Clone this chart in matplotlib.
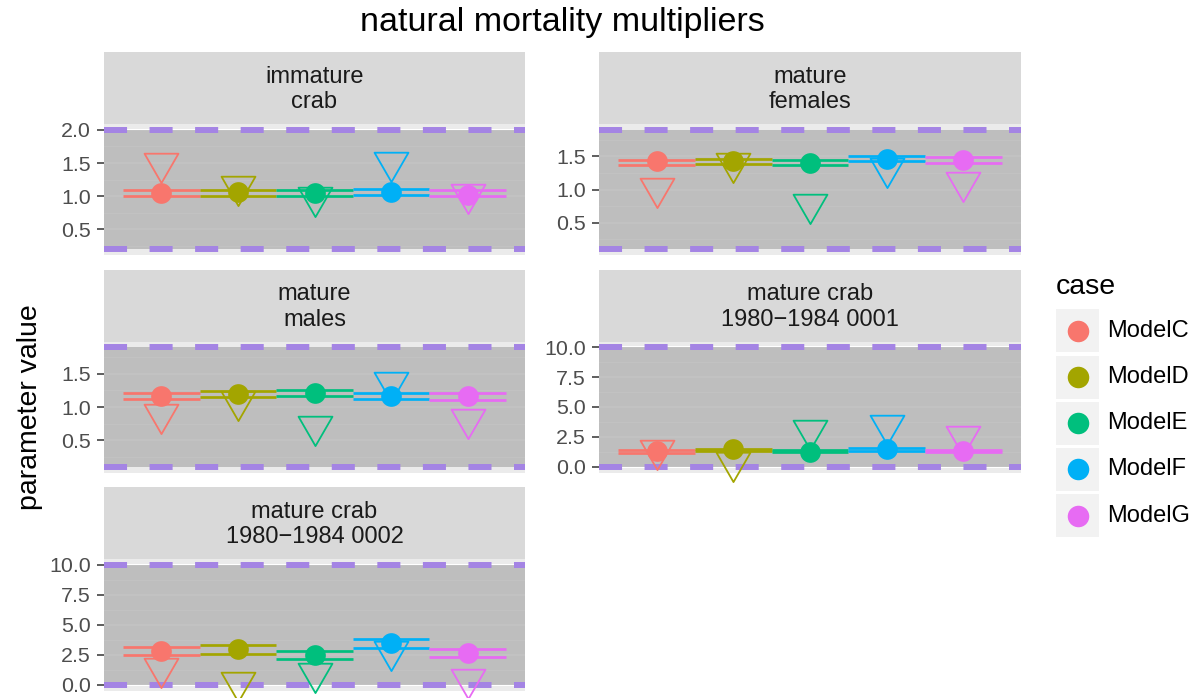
import matplotlib
matplotlib.use('Agg')
import matplotlib.pyplot as plt
from matplotlib.path import Path
from matplotlib.ticker import MultipleLocator, FormatStrFormatter
from matplotlib.patches import Rectangle
import numpy as np

plt.rcParams['font.family'] = ['Liberation Sans', 'DejaVu Sans']
plt.rcParams['lines.scale_dashes'] = False

# ---------------- data ----------------
cases = ['ModelC', 'ModelD', 'ModelE', 'ModelF', 'ModelG']
case_colors = ['#F8766D', '#A3A500', '#00BF7D', '#00B0F6', '#E76BF3']

panel_labels = ['immature\ncrab', 'mature\nfemales', 'mature\nmales',
                'mature crab\n1980\u22121984 0001', 'mature crab\n1980\u22121984 0002']

lower_bounds = [0.2, 0.1, 0.1, 0.0, 0.0]
upper_bounds = [2.0, 1.9, 1.9, 10.0, 10.0]

# estimates (filled circles)
est_immature = [1.05, 1.066, 1.05, 1.06, 1.02]
est_mat_fem = [1.425, 1.435, 1.405, 1.465, 1.45]
est_mat_male = [1.167, 1.197, 1.212, 1.167, 1.162]
est_0001 = [1.33, 1.47, 1.25, 1.47, 1.28]
est_0002 = [2.83, 2.94, 2.44, 3.44, 2.64]

# upper / lower horizontal lines
hi_immature = [1.09, 1.10, 1.09, 1.106, 1.09]
lo_immature = [0.995, 1.0, 0.995, 1.015, 0.995]
hi_mat_fem = [1.445, 1.46, 1.45, 1.50, 1.485]
lo_mat_fem = [1.374, 1.385, 1.365, 1.425, 1.40]
hi_mat_male = [1.212, 1.237, 1.258, 1.207, 1.207]
lo_mat_male = [1.121, 1.146, 1.167, 1.121, 1.106]
hi_0001 = [1.35, 1.49, 1.38, 1.54, 1.41]
lo_0001 = [1.15, 1.29, 1.18, 1.34, 1.21]
hi_0002 = [3.17, 3.28, 2.83, 3.81, 3.00]
lo_0002 = [2.44, 2.56, 2.14, 3.06, 2.28]

# initial values (open down-triangles)
init_immature = [1.505, 1.157, 0.98, 1.52, 1.025]
init_mat_fem = [1.027, 1.394, 0.786, 1.33, 1.12]
init_mat_male = [0.894, 1.09, 0.712, 1.374, 0.823]
init_0001 = [1.36, 0.42, 3.08, 3.5, 2.58]
init_0002 = [1.36, 0.17, 0.97, 2.8, 0.5]

estimates = [est_immature, est_mat_fem, est_mat_male, est_0001, est_0002]
his = [hi_immature, hi_mat_fem, hi_mat_male, hi_0001, hi_0002]
los = [lo_immature, lo_mat_fem, lo_mat_male, lo_0001, lo_0002]
inits = [init_immature, init_mat_fem, init_mat_male, init_0001, init_0002]
major_steps = [0.5, 0.5, 0.5, 2.5, 2.5]

# ---------------- layout (pixels) ----------------
W, H, DPI = 1197, 698, 100
fig = plt.figure(figsize=(W / DPI, H / DPI), dpi=DPI)
fig.patch.set_facecolor('white')

def rect(x0, y0, x1, y1):
    return [x0 / W, 1 - y1 / H, (x1 - x0) / W, (y1 - y0) / H]

cols = [(104, 525), (599, 1021)]
rows = [(52, 124, 255), (269.5, 341.5, 472.5), (487, 559, 690.5)]
slots = [(0, 0), (0, 1), (1, 0), (1, 1), (2, 0)]

# equilateral down-triangle centred on its centroid (like R pch 6)
tri_path = Path([[0, -1], [-0.866, 0.5], [0.866, 0.5], [0, -1]],
                [Path.MOVETO, Path.LINETO, Path.LINETO, Path.CLOSEPOLY])

xpos = np.arange(1, len(cases) + 1)

for k in range(5):
    r, c = slots[k]
    x0, x1 = cols[c]
    ys, yp, yb = rows[r]
    # strip
    sax = fig.add_axes(rect(x0, ys, x1, yp))
    sax.set_facecolor('#D9D9D9')
    sax.set_xticks([]); sax.set_yticks([])
    for s in sax.spines.values():
        s.set_visible(False)
    sax.text(0.5, 0.48, panel_labels[k], ha='center', va='center',
             fontsize=17, color='#1A1A1A', linespacing=1.22,
             transform=sax.transAxes)

    ax = fig.add_axes(rect(x0, yp, x1, yb))
    ax.set_facecolor('#EBEBEB')
    for s in ax.spines.values():
        s.set_visible(False)

    lb, ub = lower_bounds[k], upper_bounds[k]
    vals = [lb, ub] + list(estimates[k]) + list(his[k]) + list(los[k]) + list(inits[k])
    vmin, vmax = min(vals), max(vals)
    pad = 0.05 * (vmax - vmin)
    ax.set_ylim(vmin - pad, vmax + pad)
    ax.set_xlim(0.25, 5.75)

    step = major_steps[k]
    ax.yaxis.set_major_locator(MultipleLocator(step))
    ax.yaxis.set_minor_locator(MultipleLocator(step / 2))
    ax.yaxis.set_major_formatter(FormatStrFormatter('%.1f'))
    ax.set_xticks([])
    ax.grid(True, which='major', axis='y', color='white', linewidth=1.5)
    ax.grid(True, which='minor', axis='y', color='white', linewidth=0.75)
    ax.set_axisbelow(True)
    ax.tick_params(axis='y', which='major', length=5, width=1.1, color='#333333',
                   labelcolor='#4D4D4D', labelsize=15.4, pad=4.5)
    ax.tick_params(axis='y', which='minor', length=0)

    # bound region
    ax.add_patch(Rectangle((0.25, lb), 5.5, ub - lb, facecolor='#B3B3B3',
                           alpha=0.8, edgecolor='none', zorder=1))
    for b in (lb, ub):
        ax.axhline(b, color='#A484E4', linewidth=4.3, dashes=(16.6, 16.2),
                   solid_capstyle='butt', dash_capstyle='butt', zorder=2)

    for i in range(len(cases)):
        col = case_colors[i]
        ax.plot([xpos[i]], [inits[k][i]], linestyle='none', marker=tri_path,
                markersize=28.2, markerfacecolor='none', markeredgecolor=col,
                markeredgewidth=1.3, zorder=3, clip_on=False)
        for yv in (his[k][i], los[k][i]):
            ax.plot([xpos[i] - 0.5, xpos[i] + 0.5], [yv, yv], color=col,
                    linewidth=1.95, solid_capstyle='butt', zorder=4)
        ax.plot([xpos[i]], [estimates[k][i]], linestyle='none', marker='o',
                markersize=14.9, markerfacecolor=col, markeredgecolor='none',
                zorder=5, clip_on=False)

# title and axis label
fig.text(562 / W, 1 - 23 / H, 'natural mortality multipliers', ha='center',
         va='center', fontsize=24.5, color='black')
fig.text(30 / W, 1 - 407 / H, 'parameter value', ha='center', va='center',
         rotation=90, fontsize=20.5, color='black')

# legend
fig.text(1056 / W, 1 - 287 / H, 'case', ha='left', va='center', fontsize=20.5,
         color='black')
lax = fig.add_axes([0, 0, 1, 1])
lax.set_xlim(0, W); lax.set_ylim(H, 0)
lax.axis('off')
lax.patch.set_alpha(0)
for i, name in enumerate(cases):
    top = 309.3 + i * 46.2
    lax.add_patch(Rectangle((1056, top), 43, 43, facecolor='#F2F2F2',
                            edgecolor='none'))
    lax.plot([1077.5], [top + 21.5], marker='o', markersize=15.5,
             color=case_colors[i], markeredgecolor='none', linestyle='none')
    lax.text(1107, top + 21.5, name, ha='left', va='center', fontsize=17,
             color='black')

fig.savefig('out.png', dpi=DPI)
